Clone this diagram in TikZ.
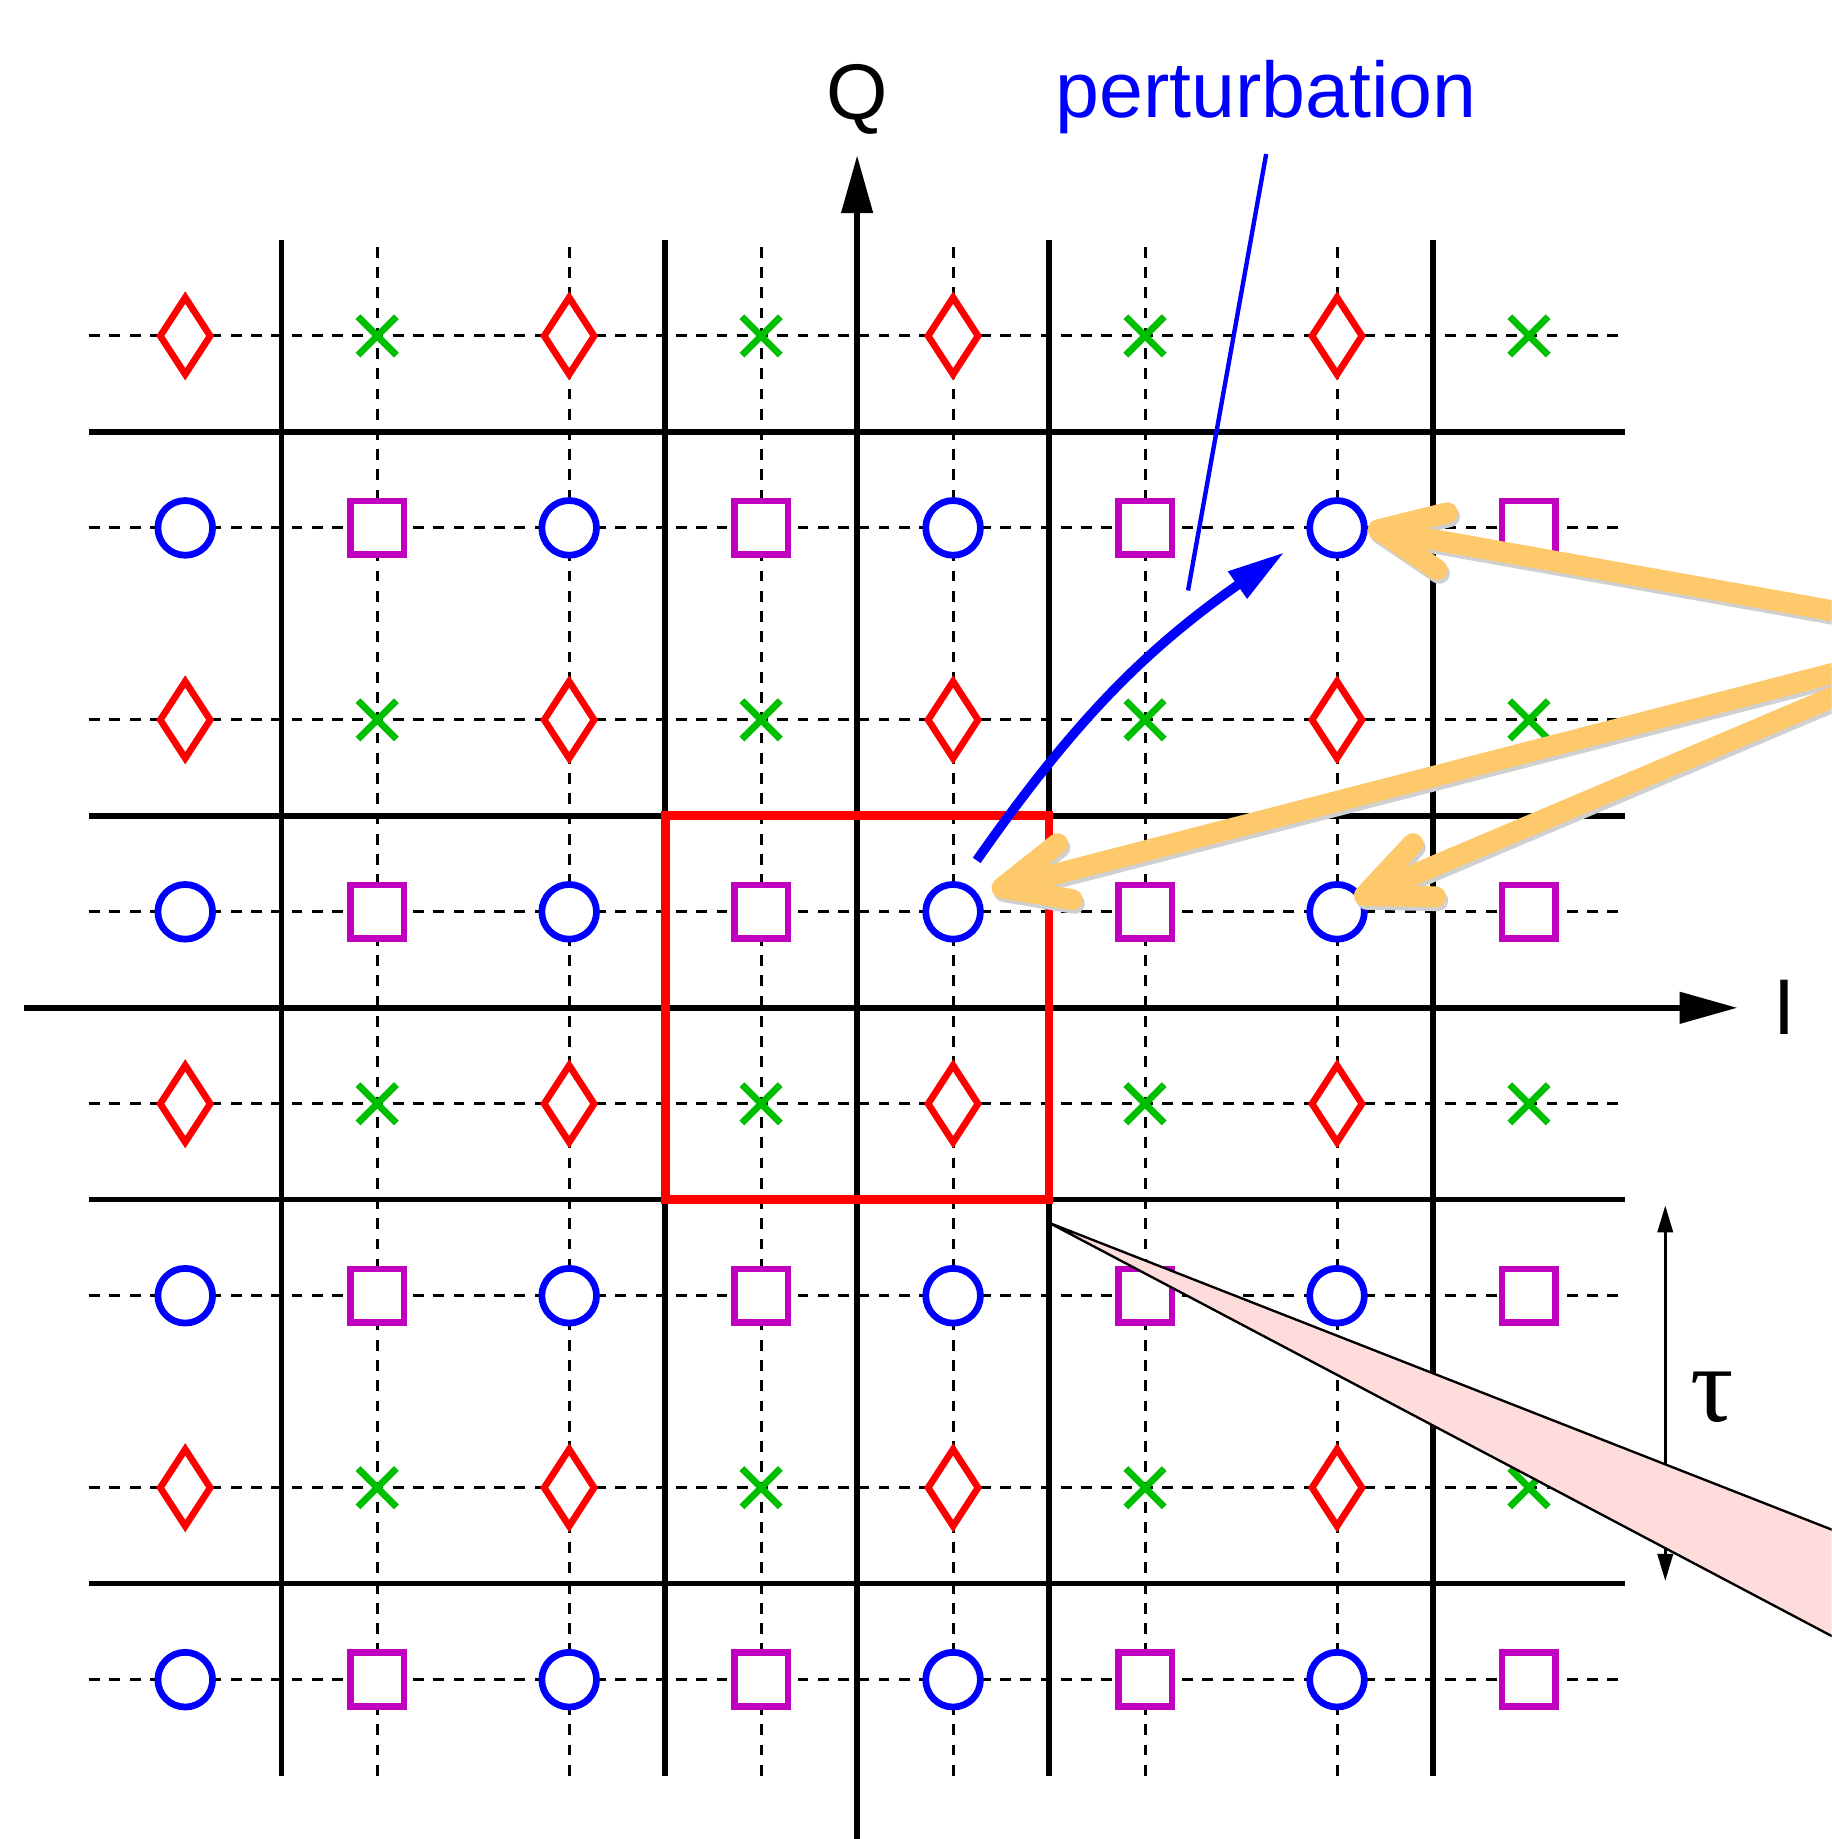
\documentclass[tikz,border=0pt]{standalone}
\usepackage{fontspec}
\setmainfont{Liberation Sans}
\newfontfamily\taufont{Liberation Serif}
\usetikzlibrary{arrows.meta,calc,positioning,shapes.geometric,shapes.misc}
\definecolor{sqmag}{RGB}{191,0,191}
\definecolor{xgreen}{RGB}{0,191,0}
\definecolor{hintorange}{RGB}{254,201,106}
\definecolor{hintshadow}{RGB}{208,208,208}
\definecolor{wedgepink}{RGB}{255,220,220}
\tikzset{
  gridsolid/.style={line width=0.8pt},
  griddashed/.style={line width=0.45pt, dash pattern=on 1.6pt off 1.4pt},
  sym/.style={fill=white, line width=1pt, inner sep=0pt, outer sep=0pt},
  circ/.style={sym, circle, draw=blue, minimum size=0.285cm},
  sqr/.style={sym, rectangle, draw=sqmag, minimum size=0.28cm},
  dia/.style={sym, diamond, draw=red, minimum width=0.26cm, minimum height=0.4cm},
  crs/.style={sym, cross out, draw=xgreen, fill=none, minimum size=0.2cm},
  axis/.style={line width=0.8pt, -{Triangle[length=0.3cm,width=0.16cm]}},
  lbl/.style={font=\fontsize{11.7}{14}\selectfont, inner sep=0pt},
  hint/.style={draw=hintorange, line width=3.1pt, line cap=round, line join=round},
  hintshade/.style={hint, draw=hintshadow},
}
\begin{document}
\begin{tikzpicture}
\useasboundingbox (-4.465,-4.33) rectangle (5.077,5.25);
\clip (-4.465,-4.33) rectangle (5.077,5.25);
% dashed lattice
\foreach \y in {-3.5,-2.5,...,3.5}
  \draw[griddashed] (-4,\y) -- (4,\y);
\foreach \x in {-2.5,-1.5,...,2.5}
  \draw[griddashed] (\x,-4) -- (\x,4);
% solid cell borders
\foreach \t in {-3,-1,1,3} {
  \draw[gridsolid] (\t,-4) -- (\t,4);
  \draw[gridsolid] (-4,\t) -- (4,\t);
}
% axes
\coordinate (qbot) at (0,-4.4);
\coordinate (qtop) at (0,4.44);
\coordinate (ileft) at (-4.34,0);
\coordinate (iright) at (4.585,0);
\draw[axis] (qbot) -- (qtop);
\draw[axis] (ileft) -- (iright);
\node[lbl] (qlab) at (0,4.73) {Q};
\node[lbl] (ilab) at (4.83,0) {I};
% symbols
\foreach \i in {0,...,3} {
  \foreach \j in {0,...,3} {
    \node[dia] (d\i\j) at (-3.5+2*\i, 3.5-2*\j) {};
    \node[crs] (x\i\j) at (-2.5+2*\i, 3.5-2*\j) {};
    \node[circ] (c\i\j) at (-3.5+2*\i, 2.5-2*\j) {};
    \node[sqr] (s\i\j) at (-2.5+2*\i, 2.5-2*\j) {};
  }
}
% unit cell
\node[draw=red, line width=1.3pt, minimum size=2cm, inner sep=0pt, outer sep=0pt] (cell) at (0,0) {};
% period
\coordinate (taup) at (4.21,-1.03);
\coordinate (taum) at (4.21,-2.985);
\draw[line width=0.4pt, {Triangle[length=0.14cm,width=0.08cm]}-{Triangle[length=0.14cm,width=0.08cm]}] (taup) -- (taum);
\node[font=\taufont\fontsize{16}{18}\selectfont, inner sep=0pt] (taulab) at (4.454,-2.027) {τ};
% zoom wedge
\coordinate (apex) at ($(cell.south east)+(0,-0.12)$);
\coordinate (wedgeA) at (6,-3.08);
\coordinate (wedgeB) at (6,-3.76);
\filldraw[fill=wedgepink, draw=black, line width=0.35pt] (apex) -- (wedgeA) -- (wedgeB) -- cycle;
% perturbation
\node[lbl, text=blue, anchor=base] (pert) at (2.131,4.64) {perturbation};
\coordinate (pbot) at (1.724,2.174);
\draw[blue, line width=0.65pt] ([yshift=-0.1cm]pert.south) -- (pbot);
\coordinate (pstart) at ($(c21)+(0.123,0.268)$);
\coordinate (pend) at ($(c30)+(-0.273,-0.126)$);
\draw[blue, line width=1.4pt, -{Triangle[length=0.3cm,width=0.16cm]}] (pstart) to[bend left=10] (pend);
% pointers
\coordinate (src) at (5.83,1.935);
\coordinate (tipA) at ($(c30)+(0.215,-0.01)$);
\coordinate (tipB) at ($(c21)+(0.255,0.125)$);
\coordinate (tipC) at ($(c31)+(0.143,0.085)$);
\begin{scope}[transform canvas={shift={(0.012,-0.02)}}]
\foreach \p in {tipA,tipB,tipC}
  \draw[hintshade] (src) -- (\p) -- ($(\p)!0.37cm!24:(src)$) (\p) -- ($(\p)!0.37cm!-24:(src)$);
\end{scope}
\foreach \p in {tipA,tipB,tipC}
  \draw[hint] (src) -- (\p) -- ($(\p)!0.37cm!24:(src)$) (\p) -- ($(\p)!0.37cm!-24:(src)$);
\end{tikzpicture}
\end{document}
